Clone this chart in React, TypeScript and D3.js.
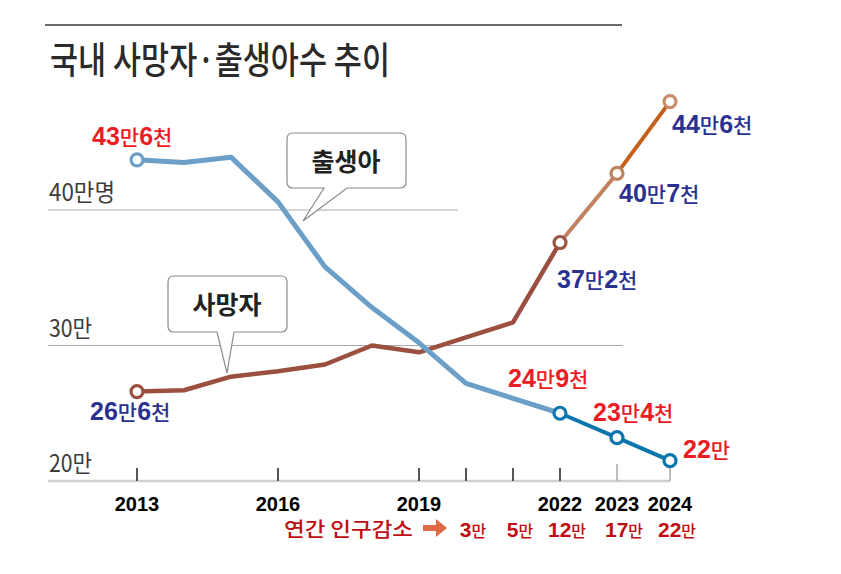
import React from "react";
import * as d3 from "d3";

// ---- data (in 만 persons) ----
const years = [2013, 2014, 2015, 2016, 2017, 2018, 2019, 2020, 2021, 2022, 2023, 2024];
const births = [43.7, 43.5, 43.9, 40.6, 35.8, 32.8, 30.2, 27.2, 26.1, 25.0, 23.2, 21.5];
const deaths = [26.6, 26.7, 27.7, 28.1, 28.6, 30.0, 29.5, 30.6, 31.7, 37.6, 42.7, 48.0];

const yTickValues = [40, 30, 20];
const yTickLabels = ["40만명", "30만", "20만"];

const tickYears = [2013, 2016, 2019, 2020, 2021, 2022, 2023, 2024];
const yearLabels = [2013, 2016, 2019, 2022, 2023, 2024];

const birthLabelYears = [2013, 2022, 2023, 2024];
const birthLabelTexts = ["43만6천", "24만9천", "23만4천", "22만"];
const deathLabelYears = [2013, 2022, 2023, 2024];
const deathLabelTexts = ["26만6천", "37만2천", "40만7천", "44만6천"];

const decreaseYears = [2020, 2021, 2022, 2023, 2024];
const decreaseValues = ["3", "5", "12", "17", "22"];

const TITLE = "국내 사망자·출생아수 추이";
const DECREASE_TITLE = "연간 인구감소";

// ---- layout ----
const W = 841;
const H = 574;
const KR = "'Noto Sans CJK KR', 'Noto Sans', sans-serif";
const NUM = "'Liberation Sans', Arial, sans-serif";

const RED = "#ec1c24";
const NAVY = "#2b3190";
const DARKRED = "#c00d14";

function MixedLabel(props: { x: number; y: number; text: string; color: string; numSize?: number; krSize?: number }) {
  const { x, y, text, color } = props;
  const numSize = props.numSize ?? 25;
  const krSize = props.krSize ?? 21;
  const parts = text.match(/\d+|\D+/g) || [];
  return (
    <text x={x} y={y} fill={color}>
      {parts.map((p, i) =>
        /\d/.test(p) ? (
          <tspan key={i} fontFamily={NUM} fontWeight="bold" fontSize={numSize}>
            {p}
          </tspan>
        ) : (
          <tspan key={i} fontFamily={KR} fontWeight={500} fontSize={krSize}>
            {p}
          </tspan>
        )
      )}
    </text>
  );
}

function calloutPath(x0: number, y0: number, x1: number, y1: number, r: number, b0: number, b1: number, tx: number, ty: number) {
  return [
    `M${x0 + r},${y0}`,
    `H${x1 - r}`,
    `Q${x1},${y0} ${x1},${y0 + r}`,
    `V${y1 - r}`,
    `Q${x1},${y1} ${x1 - r},${y1}`,
    `H${b1}`,
    `L${tx},${ty}`,
    `L${b0},${y1}`,
    `H${x0 + r}`,
    `Q${x0},${y1} ${x0},${y1 - r}`,
    `V${y0 + r}`,
    `Q${x0},${y0} ${x0 + r},${y0}`,
    "Z",
  ].join(" ");
}

export default function App() {
  const x = d3.scaleLinear().domain([2013, 2022, 2023, 2024]).range([137, 560, 617, 670]);
  const y = d3.scaleLinear().domain([20, 40]).range([481, 210]);

  const line = d3
    .line<[number, number]>()
    .x((d) => x(d[0]))
    .y((d) => y(d[1]));

  const bPts: [number, number][] = years.map((yr, i) => [yr, births[i]]);
  const dPts: [number, number][] = years.map((yr, i) => [yr, deaths[i]]);
  const i22 = years.indexOf(2022);
  const i23 = years.indexOf(2023);

  const circleIdx = [0, i22, i23, years.length - 1];
  const birthCircleColors = ["#6b9fc8", "#0b76ae", "#0b76ae", "#0b76ae"];
  const deathCircleColors = ["#9a4e3e", "#9a5445", "#c0825f", "#c98d6a"];

  const bLabelOff = [
    [-45, -15],
    [-52, -26],
    [-24, -17],
    [13, -3],
  ];
  const dLabelOff = [
    [-47, 28],
    [-3, 45],
    [2, 29],
    [2, 31],
  ];

  return (
    <svg width={W} height={H} style={{ position: "absolute", left: 0, top: 0, background: "#fff" }}>
      <rect x={0} y={0} width={W} height={H} fill="#fff" />
      {/* header */}
      <line x1={45} x2={622} y1={25} y2={25} stroke="#6a6a6a" strokeWidth={2} />
      <text x={50} y={74} fontFamily={KR} fontWeight={500} fontSize={37} fill="#2a2a2a" textLength={340} lengthAdjust="spacingAndGlyphs">
        {TITLE}
      </text>

      {/* gridlines & y labels */}
      {yTickValues.map((v, i) => (
        <g key={v}>
          {v !== 20 && (
            <line x1={48} x2={v === 40 ? 458 : 623} y1={y(v)} y2={y(v)} stroke="#a9a9a9" strokeWidth={1} />
          )}
          <text
            x={49}
            y={y(v) - 9}
            fontFamily={KR}
            fontWeight={400}
            fontSize={24}
            fill="#3c3c3c"
            textLength={i === 0 ? 66 : 43}
            lengthAdjust="spacingAndGlyphs"
          >
            {yTickLabels[i]}
          </text>
        </g>
      ))}

      {/* x axis */}
      <line x1={48} x2={x(2024)} y1={y(20)} y2={y(20)} stroke="#cfcfcf" strokeWidth={2.5} />
      {tickYears.map((yr) => (
        <line
          key={yr}
          x1={x(yr)}
          x2={x(yr)}
          y1={y(20)}
          y2={yr >= 2023 ? y(20) - 17 : y(20) - 13}
          stroke={yr >= 2023 ? "#bdbdbd" : "#555"}
          strokeWidth={2}
        />
      ))}
      {yearLabels.map((yr) => (
        <text key={yr} x={x(yr)} y={511} textAnchor="middle" fontFamily={NUM} fontWeight="bold" fontSize={20} fill="#000">
          {yr}
        </text>
      ))}

      {/* callouts */}
      <path d={calloutPath(287, 133, 406, 188, 6, 324, 347, 303, 221)} fill="#fff" stroke="#8a8a8a" strokeWidth={1.2} />
      <text x={346} y={171} textAnchor="middle" fontFamily={KR} fontWeight={700} fontSize={25} fill="#222">
        출생아
      </text>
      <path d={calloutPath(168, 276, 287, 332, 6, 217, 234, 227, 373)} fill="#fff" stroke="#8a8a8a" strokeWidth={1.2} />
      <text x={227} y={314} textAnchor="middle" fontFamily={KR} fontWeight={700} fontSize={25} fill="#222">
        사망자
      </text>

      {/* deaths line */}
      <path d={line(dPts.slice(0, i22 + 1)) || ""} fill="none" stroke="#9b4f3e" strokeWidth={4.5} strokeLinejoin="round" />
      <path d={line(dPts.slice(i22, i23 + 1)) || ""} fill="none" stroke="#c0825f" strokeWidth={4} />
      <path d={line(dPts.slice(i23)) || ""} fill="none" stroke="#c5601c" strokeWidth={4} />

      {/* births line */}
      <path d={line(bPts.slice(0, i22 + 1)) || ""} fill="none" stroke="#6b9fc8" strokeWidth={5} strokeLinejoin="round" />
      <path d={line(bPts.slice(i22)) || ""} fill="none" stroke="#0b76ae" strokeWidth={4} strokeLinejoin="round" />

      {/* circles */}
      {circleIdx.map((idx, k) => (
        <circle key={"d" + idx} cx={x(years[idx])} cy={y(deaths[idx])} r={6} fill="#fff" stroke={deathCircleColors[k]} strokeWidth={3.2} />
      ))}
      {circleIdx.map((idx, k) => (
        <circle key={"b" + idx} cx={x(years[idx])} cy={y(births[idx])} r={6} fill="#fff" stroke={birthCircleColors[k]} strokeWidth={3.2} />
      ))}

      {/* value labels */}
      {birthLabelYears.map((yr, k) => {
        const idx = years.indexOf(yr);
        return (
          <MixedLabel
            key={"bl" + yr}
            x={x(yr) + bLabelOff[k][0]}
            y={y(births[idx]) + bLabelOff[k][1]}
            text={birthLabelTexts[k]}
            color={RED}
          />
        );
      })}
      {deathLabelYears.map((yr, k) => {
        const idx = years.indexOf(yr);
        return (
          <MixedLabel
            key={"dl" + yr}
            x={x(yr) + dLabelOff[k][0]}
            y={y(deaths[idx]) + dLabelOff[k][1]}
            text={deathLabelTexts[k]}
            color={NAVY}
          />
        );
      })}

      {/* annual decrease row */}
      <text x={284} y={537} fontFamily={KR} fontWeight={500} fontSize={20} fill={DARKRED} textLength={129} lengthAdjust="spacingAndGlyphs">
        {DECREASE_TITLE}
      </text>
      <path d="M423,525 H436 V519 L447,528 L436,537 V531 H423 Z" fill="#df6a45" />
      {decreaseYears.map((yr, k) => (
        <text key={"dec" + yr} x={x(yr) + 7} y={537} textAnchor="middle" fill={DARKRED}>
          <tspan fontFamily={NUM} fontWeight="bold" fontSize={21}>
            {decreaseValues[k]}
          </tspan>
          <tspan fontFamily={KR} fontWeight={500} fontSize={16}>
            만
          </tspan>
        </text>
      ))}
    </svg>
  );
}
